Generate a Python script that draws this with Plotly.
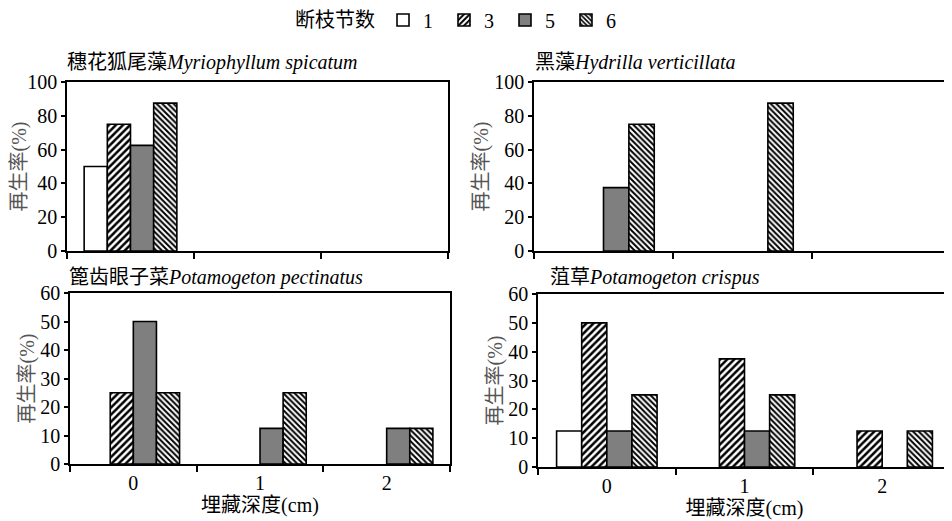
import plotly.graph_objects as go

# ---------------- data ----------------
depths = ["0", "1", "2"]                 # 埋藏深度 (cm)
node_counts = ["1", "3", "5", "6"]       # 断枝节数
# rows follow node_counts, columns follow depths; values are 再生率 (%)
myriophyllum = [[50, 0, 0], [75, 0, 0], [62.5, 0, 0], [87.5, 0, 0]]
hydrilla = [[0, 0, 0], [0, 0, 0], [37.5, 0, 0], [75, 87.5, 0]]
pectinatus = [[0, 0, 0], [25, 0, 0], [50, 12.5, 12.5], [25, 25, 12.5]]
crispus = [[12.5, 0, 0], [50, 37.5, 12.5], [12.5, 12.5, 0], [25, 25, 12.5]]

panel_titles = [
    "穗花狐尾藻<i>Myriophyllum spicatum</i>",
    "黑藻<i>Hydrilla verticillata</i>",
    "篦齿眼子菜<i>Potamogeton pectinatus</i>",
    "菹草<i>Potamogeton crispus</i>",
]
y_title = "再生率(%)"
x_title = "埋藏深度(cm)"
legend_title = "断枝节数"

# ---------------- styles ----------------
OFF = 8                      # page body margin
FW, FH = 952 - OFF, 521 - OFF
FONT = "'Liberation Serif', 'Times New Roman', 'Noto Sans CJK SC', serif"
fills = ["white", "white", "#7f7f7f", "white"]
patterns = ["", "/", "", "\\"]
pat_sizes = [5, 5, 5, 4]


def fx(px):
    return (px - OFF) / FW


def fy(py):
    return 1 - (py - OFF) / FH


# page-pixel boxes of each panel: (left, right, top, bottom)
boxes = [(67, 448, 82, 251), (534, 951, 82, 251),
         (70, 450, 293, 464), (538, 951, 294, 467)]
title_pos = [(65, 62), (533, 62), (67, 277), (548, 277)]
ymax = [100, 100, 60, 60]
ydt = [20, 20, 10, 10]
panels = [myriophyllum, hydrilla, pectinatus, crispus]

fig = go.Figure()
layout = {}
for p, data in enumerate(panels):
    sfx = "" if p == 0 else str(p + 1)
    for s, name in enumerate(node_counts):
        fig.add_trace(go.Bar(
            x=depths, y=[v if v else None for v in data[s]], name=name,
            legendgroup=name, showlegend=(p == 0),
            xaxis="x" + sfx, yaxis="y" + sfx,
            marker=dict(color=fills[s],
                        line=dict(color="black", width=1.6),
                        pattern=dict(shape=patterns[s], fgcolor="black",
                                     bgcolor="white", size=pat_sizes[s],
                                     solidity=0.5)),
        ))
    l, r, t, b = boxes[p]
    bottom_row = p >= 2
    layout["xaxis" + sfx] = dict(
        domain=[fx(l), min(fx(r), 1)], anchor="y" + sfx, type="category",
        tickson="boundaries", ticks="outside", ticklen=6, tickwidth=1.5,
        tickcolor="black", showline=True, linecolor="black", linewidth=1.6,
        mirror=True, showgrid=False, showticklabels=bottom_row,
        automargin=False,
        tickfont=dict(size=20, color="black", family=FONT),
        title=dict(text=x_title if bottom_row else "", standoff=4,
                   font=dict(size=20, color="black", family=FONT)),
        range=[-0.5, 2.5], fixedrange=True,
    )
    layout["yaxis" + sfx] = dict(
        domain=[fy(b), fy(t)], anchor="x" + sfx,
        range=[0, ymax[p]], dtick=ydt[p], ticks="outside", ticklen=4,
        tickwidth=1.5, tickcolor="black", showline=True, linecolor="black",
        linewidth=1.6, mirror=True, showgrid=False, zeroline=False,
        automargin=False,
        tickfont=dict(size=20, color="black", family=FONT),
        title=dict(text=y_title, standoff=0,
                   font=dict(size=20, color="#555555", family=FONT)),
    )

annotations = []
for p, txt in enumerate(panel_titles):
    x, y = title_pos[p]
    annotations.append(dict(
        text=txt, x=fx(x), y=fy(y), xref="paper", yref="paper",
        xanchor="left", yanchor="middle", showarrow=False,
        font=dict(size=20, color="black", family=FONT)))

fig.update_layout(
    **layout,
    template="none",
    annotations=annotations,
    width=FW, height=FH,
    margin=dict(l=0, r=0, t=0, b=0, autoexpand=False),
    paper_bgcolor="white", plot_bgcolor="white",
    barmode="group", bargap=0.27, bargroupgap=0,
    font=dict(family=FONT, size=20, color="black"),
    legend=dict(
        orientation="h", x=fx(293), xanchor="left", y=fy(20),
        yanchor="middle", font=dict(size=20, family=FONT, color="black"),
        title=dict(text=legend_title, side="left",
                   font=dict(size=20, family=FONT, color="black")),
        itemwidth=30, entrywidth=16, traceorder="normal",
        bgcolor="rgba(0,0,0,0)", borderwidth=0,
    ),
)

fig.write_html("out.html")
